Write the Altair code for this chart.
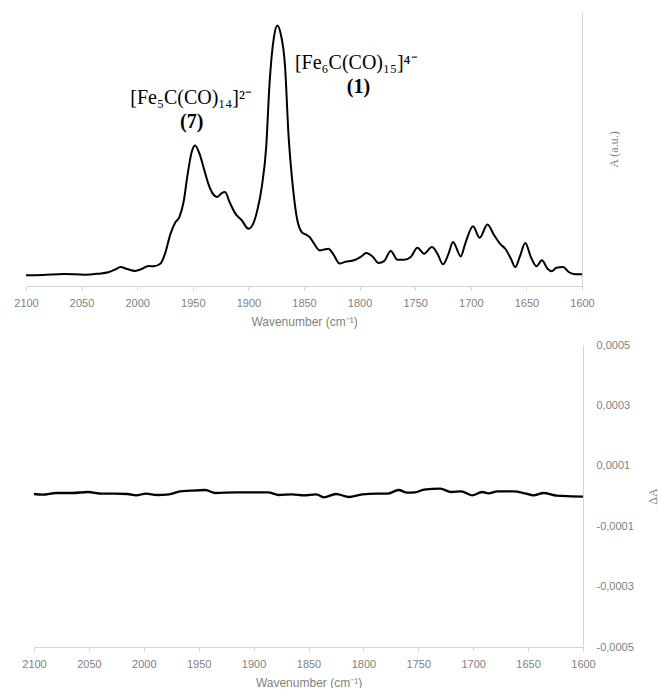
import altair as alt
import pandas as pd

# IR spectrum (top panel): wavenumber in cm-1 and absorbance in arbitrary units
wavenumber = [2100, 2085, 2066, 2047, 2035, 2026, 2020, 2015, 2009, 2002, 1996, 1990,
              1985, 1979, 1975, 1970, 1966, 1962, 1958, 1955, 1951, 1948, 1944, 1940,
              1936, 1932, 1928, 1924, 1921, 1917, 1912, 1906, 1900, 1896, 1892, 1888,
              1884, 1881, 1877, 1874, 1871, 1867, 1864, 1860, 1856, 1852, 1848, 1845,
              1841, 1836, 1832, 1828, 1824, 1818, 1813, 1805, 1799, 1794, 1788, 1783,
              1778, 1772, 1766, 1760, 1754, 1748, 1742, 1735, 1730, 1725, 1720, 1716,
              1709, 1705, 1698, 1692, 1685, 1679, 1673, 1669, 1664, 1660, 1656, 1651,
              1646, 1641, 1636, 1631, 1627, 1623, 1617, 1612, 1606, 1600]
absorbance = [0.039, 0.040, 0.044, 0.041, 0.045, 0.050, 0.060, 0.069, 0.062, 0.055, 0.062, 0.073,
              0.072, 0.082, 0.118, 0.191, 0.230, 0.252, 0.313, 0.398, 0.489, 0.513, 0.483, 0.428,
              0.373, 0.337, 0.325, 0.339, 0.343, 0.307, 0.266, 0.240, 0.209, 0.225, 0.276, 0.361,
              0.507, 0.738, 0.909, 0.951, 0.921, 0.799, 0.556, 0.361, 0.240, 0.197, 0.187, 0.179,
              0.155, 0.130, 0.133, 0.136, 0.118, 0.082, 0.088, 0.094, 0.106, 0.120, 0.106, 0.084,
              0.091, 0.128, 0.096, 0.096, 0.106, 0.140, 0.118, 0.142, 0.118, 0.079, 0.118, 0.161,
              0.108, 0.155, 0.218, 0.176, 0.224, 0.185, 0.151, 0.136, 0.100, 0.069, 0.106, 0.157,
              0.106, 0.072, 0.094, 0.063, 0.054, 0.067, 0.069, 0.051, 0.043, 0.043]

# Difference spectrum (bottom panel)
wavenumber_diff = [2100, 2092, 2080, 2065, 2051, 2038, 2027, 2015, 2007, 1998, 1988, 1977,
                   1967, 1958, 1944, 1935, 1916, 1900, 1887, 1877, 1865, 1854, 1843, 1836,
                   1825, 1813, 1801, 1788, 1778, 1768, 1760, 1753, 1745, 1730, 1720, 1711,
                   1701, 1692, 1686, 1678, 1663, 1653, 1645, 1636, 1624, 1611, 1600]
delta_abs = [0.0000066, 0.0000044, 0.0000099, 0.0000099, 0.0000132, 0.0000077, 0.0000077,
             0.0000066, 0.0000022, 0.0000077, 0.0000033, 0.0000055, 0.0000154, 0.0000176,
             0.0000198, 0.0000099, 0.0000121, 0.0000121, 0.0000121, 0.0000033, 0.0000055,
             0.0000022, 0.0000055, -0.0000044, 0.0000066, -0.0000033, 0.0000055, 0.0000077,
             0.0000077, 0.0000198, 0.0000110, 0.0000121, 0.0000209, 0.0000242, 0.0000132,
             0.0000154, 0.0000022, 0.0000132, 0.0000088, 0.0000154, 0.0000154, 0.0000088,
             0.0000022, 0.0000099, 0.0000011, -0.0000011, -0.0000022]

# Peak assignments
formula_text = ["[Fe₅C(CO)₁₄]²⁻", "[Fe₆C(CO)₁₅]⁴⁻"]
formula_wn = [1951.5, 1803]
formula_a = [0.685, 0.813]
number_text = ["(7)", "(1)"]
number_wn = [1951, 1801]
number_a = [0.597, 0.725]

x_ticks = [2100, 2050, 2000, 1950, 1900, 1850, 1800, 1750, 1700, 1650, 1600]
da_ticks = [-0.0005, -0.0003, -0.0001, 0.0001, 0.0003, 0.0005]

GREY_TEXT = "#7f7f7f"
GREY_LINE = "#d4d4d4"
SANS = "Liberation Sans"
SERIF = "Liberation Serif"

spec_df = pd.DataFrame({"wn": wavenumber, "A": absorbance})
diff_df = pd.DataFrame({"wn": wavenumber_diff, "dA": delta_abs})
formula_df = pd.DataFrame({"wn": formula_wn, "A": formula_a, "label": formula_text})
number_df = pd.DataFrame({"wn": number_wn, "A": number_a, "label": number_text})


def x_axis():
    return alt.Axis(values=x_ticks, format="d", title="Wavenumber (cm⁻¹)", grid=False,
                    labelFlush=False, labelOverlap=False,
                    domainColor=GREY_LINE, tickColor=GREY_LINE, tickSize=4,
                    labelColor=GREY_TEXT, labelFont=SANS, labelFontSize=11, labelPadding=7,
                    titleColor=GREY_TEXT, titleFont=SANS, titleFontSize=12,
                    titleFontWeight="normal", titlePadding=8)


x_top = alt.X("wn:Q", scale=alt.Scale(domain=[2100, 1600], range=[0, 556], nice=False, zero=False),
              axis=x_axis())
y_top = alt.Y("A:Q", scale=alt.Scale(domain=[0, 1], nice=False),
              axis=alt.Axis(orient="right", labels=False, ticks=False, grid=False,
                            domainColor=GREY_LINE, title="A (a.u.)", titleAngle=270,
                            titleX=31, titleY=137, titleAlign="center", titleBaseline="middle",
                            titleColor=GREY_TEXT, titleFont=SERIF, titleFontSize=12,
                            titleFontWeight="normal"))

spectrum = alt.Chart(spec_df).mark_line(color="black", strokeWidth=2, interpolate="monotone").encode(
    x=x_top, y=y_top)
formulas = alt.Chart(formula_df).mark_text(font=SERIF, fontSize=20, color="black",
                                           align="center", baseline="middle").encode(
    x="wn:Q", y="A:Q", text="label:N")
numbers = alt.Chart(number_df).mark_text(font=SERIF, fontSize=20, fontWeight="bold", color="black",
                                         align="center", baseline="middle").encode(
    x="wn:Q", y="A:Q", text="label:N")

top = alt.layer(spectrum, formulas, numbers).properties(width=556, height=274)

x_bot = alt.X("wn:Q", scale=alt.Scale(domain=[2100, 1600], range=[8, 557], nice=False, zero=False),
              axis=x_axis())
y_bot = alt.Y("dA:Q", scale=alt.Scale(domain=[-0.0005, 0.0005], nice=False),
              axis=alt.Axis(orient="right", values=da_ticks, grid=False, ticks=False, tickSize=0,
                            domainColor=GREY_LINE, labelFlush=False, labelOverlap=False,
                            labelExpr="replace(replace(format(datum.value, '.4f'), '.', ','), '\u2212', '-')",
                            labelColor=GREY_TEXT, labelFont=SANS, labelFontSize=11, labelPadding=13,
                            title="ΔA", titleAngle=270, titleX=69, titleY=151,
                            titleAlign="center", titleBaseline="middle",
                            titleColor=GREY_TEXT, titleFont=SERIF,
                            titleFontSize=12, titleFontWeight="normal"))

bottom = alt.Chart(diff_df).mark_line(color="black", strokeWidth=2.3, interpolate="monotone").encode(
    x=x_bot, y=y_bot).properties(width=557, height=302)

# the leftmost tick label already reaches ~12 px past the plot edge, so the outer pad is smaller
chart = alt.vconcat(top, bottom, spacing=59, bounds="flush").properties(
    padding={"left": 13, "top": 12, "right": 0, "bottom": 0},
    background="white",
).configure_view(stroke=None)

chart.save("out.html", embed_options={"renderer": "svg", "actions": False})
